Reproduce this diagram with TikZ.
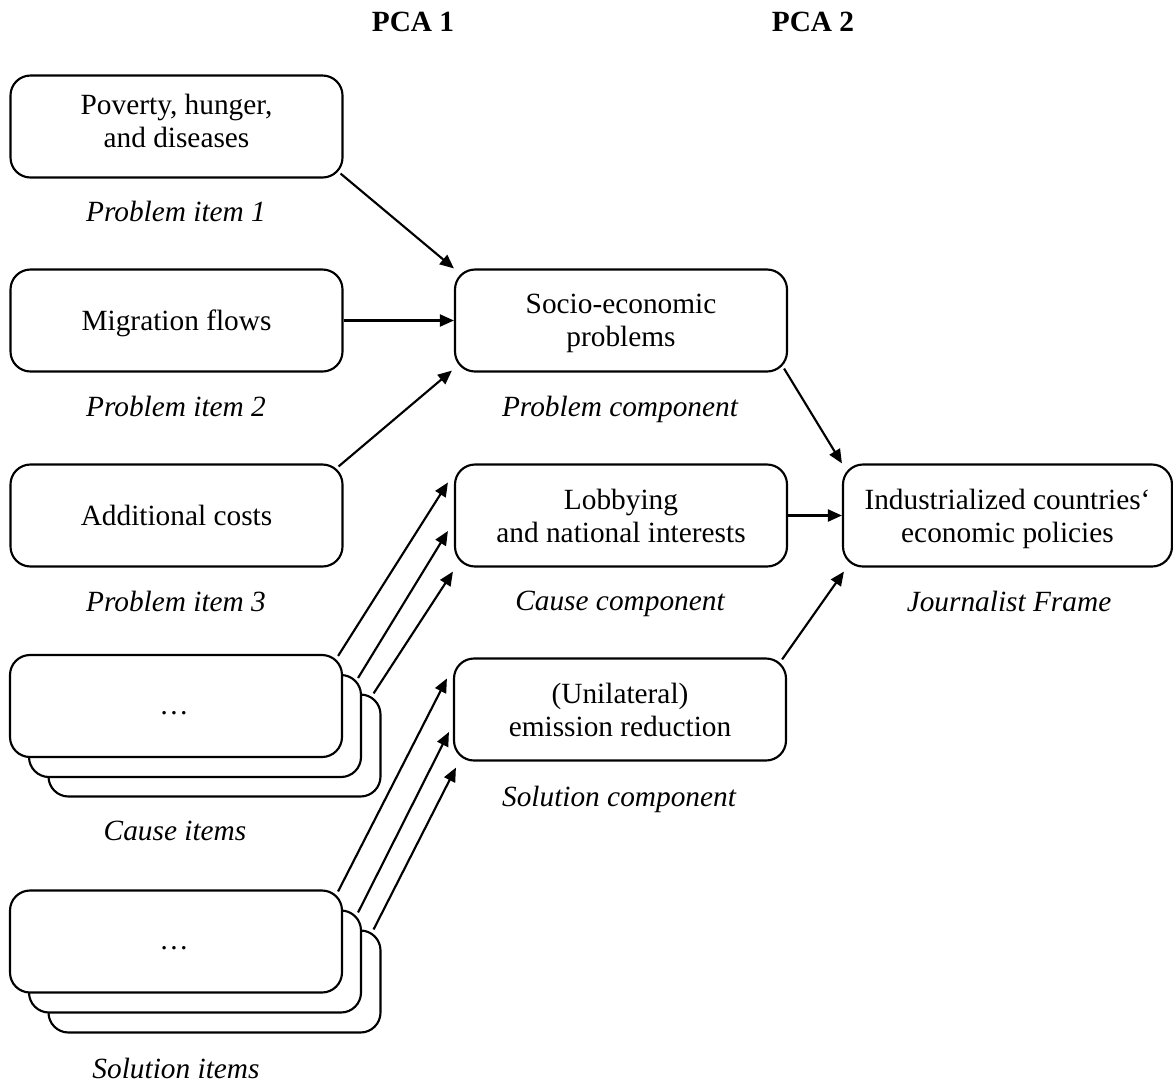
\documentclass[tikz,border=0pt]{standalone}
\usepackage{fontspec}
\setmainfont{Liberation Serif}
\usetikzlibrary{arrows.meta,calc}
\tikzset{
  box/.style={draw=black, line width=1.6pt, rounded corners=15pt, fill=white,
    minimum width=332*0.75pt, minimum height=102*0.75pt, inner sep=0pt,
    align=center, text depth=0pt, font=\fontsize{22}{24.75}\selectfont},
  rbox/.style={box, minimum width=329*0.75pt},
  lbl/.style={font=\fontsize{22}{24.75}\selectfont\itshape, inner sep=0pt, text depth=0pt},
  ttl/.style={font=\fontsize{22}{24.75}\selectfont\bfseries, inner sep=0pt},
  txt/.style={font=\fontsize{22}{24.75}\selectfont, align=center, inner sep=0pt},
  arr/.style={line width=1.6pt, -{Triangle[length=10.5pt,width=9pt]}}
}
\begin{document}
\begin{tikzpicture}[x=0.75pt,y=-0.75pt]
\useasboundingbox (0,0) rectangle (1173,1086);
% titles
\node[ttl] (t1) at (413,22) {PCA 1};
\node[ttl] (t2) at (813,22) {PCA 2};
% left column
\node[box] (b1) at (176.5,126.5) {};
\node[txt] (b1t) at (176.5,120.5) {Poverty, hunger,\\and diseases};
\node[lbl] (l1) at (176,211) {Problem item 1};
\node[box] (b2) at (176.5,320.5) {Migration flows};
\node[lbl] (l2) at (176,406) {Problem item 2};
\node[box] (b3) at (176.5,515.5) {Additional costs};
\node[lbl] (l3) at (176,601) {Problem item 3};
% cause stack
\node[box] (c3) at (214.5,745.5) {};
\node[box] (c2) at (195,726) {};
\node[box] (c1) at (176,706) {};
\node[txt] (c1t) at (174,713) {…};
\node[lbl] (l4) at (175,831) {Cause items};
% solution stack
\node[box] (s3) at (214.5,981.5) {};
\node[box] (s2) at (195,961.5) {};
\node[box] (s1) at (176,941.5) {};
\node[txt] (s1t) at (174,948) {…};
\node[lbl] (l5) at (176,1068) {Solution items};
% middle column
\node[box] (m1) at (621,320.5) {Socio-economic\\problems};
\node[lbl] (lm1) at (620,406) {Problem component};
\node[box] (m2) at (621,515.5) {Lobbying\\and national interests};
\node[lbl] (lm2) at (620,601) {Cause component};
\node[box] (m3) at (620,709.5) {(Unilateral)\\emission reduction};
\node[lbl] (lm3) at (619,796) {Solution component};
% right
\node[rbox] (r) at (1007.5,515.5) {Industrialized countries‘\\economic policies};
\node[lbl] (lr) at (1009,601) {Journalist Frame};
% arrows problem
\draw[arr] ($(b1.south east)+(-3,-5)$) -- (m1.north west);
\draw[arr] (b2.east) -- (m1.west);
\draw[arr] ($(b3.north east)+(-5,3)$) -- ($(m1.south west)+(-2,-2)$);
% arrows cause
\draw[arr] ($(c1.north east)+(-5,2)$) -- ($(m2.north west)+(-6,19)$);
\draw[arr] ($(c2.north east)+(-4,4)$) -- ($(m2.west)+(-6,15.5)$);
\draw[arr] ($(c3.north east)+(-8,0)$) -- ($(m2.south west)+(-1,4)$);
% arrows solution
\draw[arr] ($(s1.north east)+(-5,2)$) -- ($(m3.north west)+(-6,21)$);
\draw[arr] ($(s2.north east)+(-4,3)$) -- ($(m3.west)+(-4,22.5)$);
\draw[arr] ($(s3.north east)+(-8,0)$) -- ($(m3.south west)+(3,6)$);
% arrows to frame
\draw[arr] ($(m1.south east)+(-4,-4)$) -- (r.north west);
\draw[arr] (m2.east) -- (r.west);
\draw[arr] ($(m3.north east)+(-5,2)$) -- ($(r.south west)+(2,4)$);
\end{tikzpicture}
\end{document}
